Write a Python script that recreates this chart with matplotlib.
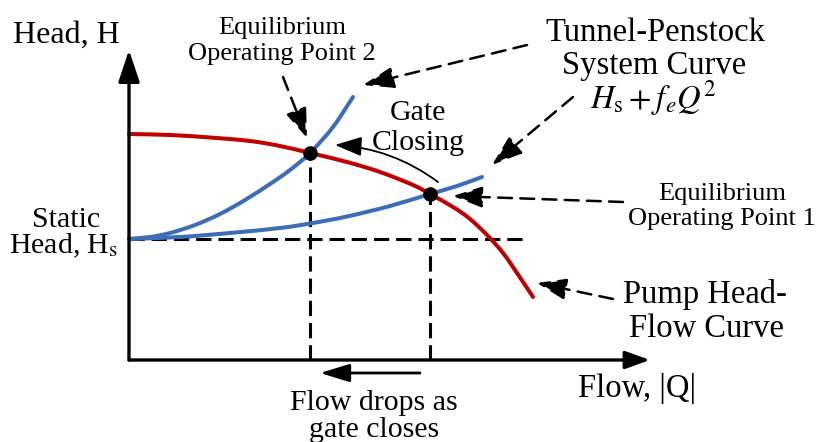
import matplotlib
matplotlib.use("Agg")
import matplotlib.pyplot as plt
from matplotlib.patches import FancyArrowPatch, PathPatch
from matplotlib.path import Path

plt.rcParams['font.family'] = ['Liberation Serif', 'DejaVu Serif']
plt.rcParams['mathtext.fontset'] = 'stix'
plt.rcParams['lines.scale_dashes'] = False

# pump head-flow curve
pump_q = [0, 41, 81, 121, 151, 181, 218, 251, 284, 301, 324, 341, 358, 374, 388, 404]
pump_h = [226, 225, 222.5, 219, 214, 207, 198, 188, 175, 166, 153, 141, 125, 107, 87, 63]

# system curve, gate partly closed
sys2_q = [0, 21, 41, 66, 91, 116, 141, 161, 181, 204, 224]
sys2_h = [121, 123, 127, 135, 146, 160, 176, 190, 207, 233, 263]

# system curve, gate open
sys1_q = [0, 51, 101, 151, 181, 218, 261, 301, 328, 353]
sys1_h = [121, 123, 127, 132, 136.5, 143.5, 154, 166, 174, 183]

static_head = 121
op_q = [301, 181]   # operating point 1, operating point 2
op_h = [166, 207]

red = "#C00000"
blue = "#3D6DB5"

fig = plt.figure(figsize=(8.17, 4.42), dpi=100)
ax = fig.add_axes([0, 0, 1, 1])
ax.set_xlim(-129, 688)
ax.set_ylim(-82, 360)
ax.axis('off')


def curve(xs, ys, color):
    # draw a smooth bezier through the given points (catmull-rom tangents)
    pts = list(zip(xs, ys))
    n = len(pts)
    tans = []
    for i in range(n):
        a = pts[max(i - 1, 0)]
        b = pts[min(i + 1, n - 1)]
        k = 0.5 if 0 < i < n - 1 else 1.0
        tans.append(((b[0] - a[0]) * k, (b[1] - a[1]) * k))
    verts = [pts[0]]
    codes = [Path.MOVETO]
    for i in range(n - 1):
        p0, p1 = pts[i], pts[i + 1]
        t0, t1 = tans[i], tans[i + 1]
        verts += [(p0[0] + t0[0] / 3, p0[1] + t0[1] / 3),
                  (p1[0] - t1[0] / 3, p1[1] - t1[1] / 3), p1]
        codes += [Path.CURVE4] * 3
    ax.add_patch(PathPatch(Path(verts, codes), fc='none', ec=color, lw=2.9,
                           capstyle='round', zorder=3))


guide = dict(color='black', lw=2.2, dashes=(11, 5))
ax.plot([0, 396], [static_head, static_head], **guide)
for q, h in zip(op_q, op_h):
    ax.plot([q, q], [0, h], **guide)

curve(pump_q, pump_h, red)
curve(sys2_q, sys2_h, blue)
curve(sys1_q, sys1_h, blue)
ax.plot(op_q, op_h, 'o', color='black', ms=9.5, zorder=5)


def arrow(a, b, lw, hl, hw, dashed=False, rad=0.0):
    p = FancyArrowPatch(a, b, arrowstyle=f'-|>,head_length={hl},head_width={hw}',
                        mutation_scale=1, color='black', lw=lw, shrinkA=0, shrinkB=0,
                        connectionstyle=f'arc3,rad={rad}', zorder=4,
                        linestyle=(0, (10, 6)) if dashed else '-')
    ax.add_patch(p)


# axes
arrow((0, 0), (0, 310), 2.4, 19.5, 6.5)
arrow((0, 0), (521, 0), 2.4, 15, 5.4)

# pointers
arrow((154, 283), (178, 222), 1.8, 18, 6.5, dashed=True)
arrow((398, 315), (234, 275), 1.8, 19, 6.5, dashed=True)
arrow((444, 263), (363, 195), 1.8, 19, 6.5, dashed=True)
arrow((494, 158), (324, 164), 1.8, 18, 6.5, dashed=True)
arrow((484, 61), (408, 77), 1.8, 18, 6.5, dashed=True)

# gate closing / flow drop
arrow((309, 178), (206, 215), 1.3, 16.5, 6, rad=0.15)
arrow((291, -13), (191, -13), 2.0, 18, 5.5)

labels = [
    ("Head, H", -63, 317, 23),
    ("Equilibrium", 153, 326, 19),
    ("Operating Point 2", 153, 300, 19),
    ("Tunnel-Penstock", 526, 319, 23.5),
    ("System Curve", 525, 286, 23.5),
    (r"$H_\mathrm{s} + f_e Q^2$", 524, 252, 23.5),
    ("Gate", 289, 240, 21.5),
    ("Closing", 289, 210, 21.5),
    ("Equilibrium", 593, 160, 19),
    ("Operating Point 1", 593, 135, 19),
    ("Static", -63, 133, 21.5),
    (r"Head, H$_\mathrm{s}$", -65, 107, 21.5),
    ("Pump Head-", 576, 57, 23.5),
    ("Flow Curve", 578, 23, 23.5),
    ("Flow, |Q|", 508, -37, 23.5),
    ("Flow drops as", 245, -50, 21.5),
    ("gate closes", 245, -77, 21.5),
]
for s, x, y, fs in labels:
    ax.text(x, y, s, ha='center', va='baseline', fontsize=fs)

fig.savefig("out.png", dpi=100)
